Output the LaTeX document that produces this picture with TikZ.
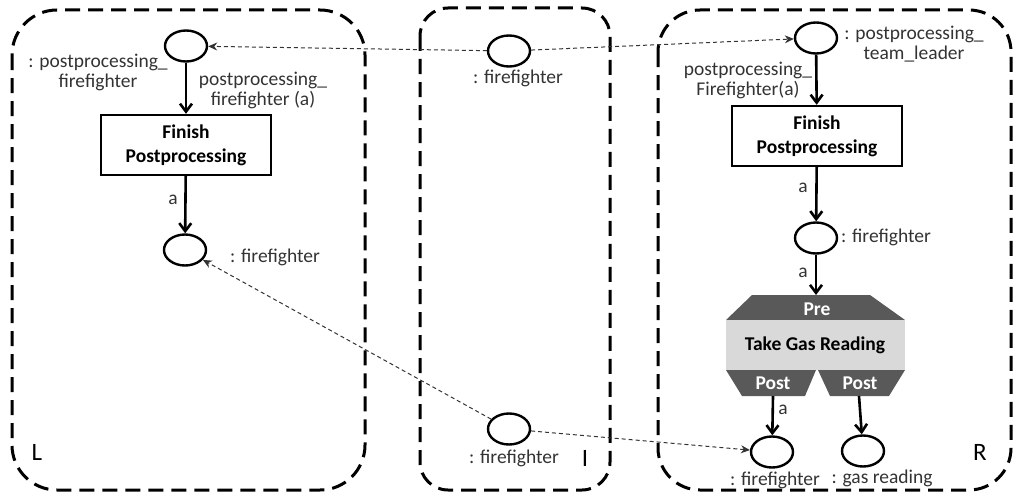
\documentclass[tikz,border=0pt]{standalone}
\usepackage{fontspec}
\setmainfont{Carlito}
\usetikzlibrary{arrows.meta,shapes.geometric}

\definecolor{lblgray}{HTML}{333333}
\definecolor{bandgray}{HTML}{595959}
\definecolor{bodygray}{HTML}{D9D9D9}

\tikzset{
  place/.style={draw, ellipse, line width=2.4pt, minimum width=42pt, minimum height=31pt, inner sep=0pt},
  trans/.style={draw, line width=2.4pt, minimum width=170pt, minimum height=60pt, align=center, font=\bfseries\fontsize{19.5}{24}\selectfont},
  lbl/.style={align=center, text=lblgray, font=\fontsize{19.5}{20}\selectfont, inner sep=0pt},
  side/.style={font=\fontsize{25}{26}\selectfont, inner sep=0pt},
  arc/.style={-{Straight Barb[length=8pt,width=12pt]}, line width=2.6pt},
  mapping/.style={-{Stealth[length=9pt,width=8pt]}, line width=1pt, dash pattern=on 4pt off 3pt, lblgray},
  region/.style={line width=3pt, dash pattern=on 15pt off 8pt, rounded corners=#1},
  region/.default=40pt
}

\begin{document}
\begin{tikzpicture}[x=1pt,y=-1pt]
\useasboundingbox (0,0) rectangle (1016,495);

% graph regions
\draw[region=45pt] (12,10) rectangle (365,490);
\draw[region=28pt] (420,8) rectangle (610,490);
\draw[region=42pt] (658,10) rectangle (1011,490);
\node[side] (sideL) at (37,452) {L};
\node[side] (sideI) at (585,458) {I};
\node[side] (sideR) at (980,452) {R};

% left side
\node[place] (pL1) at (186,46) {};
\node[trans] (tL) at (186,145) {Finish\\Postprocessing};
\node[place] (pL2) at (185,250) {};
\node[lbl] at (98,72) {: postprocessing\_\\firefighter};
\node[lbl] at (263,90) {postprocessing\_\\firefighter (a)};
\node[lbl] at (173,200) {a};
\node[lbl] at (275,257) {: firefighter};
\draw[arc] (pL1) -- (tL);
\draw[arc] (tL) -- (pL2);

% interface
\node[place] (pI1) at (509,51) {};
\node[place] (pI2) at (509,429) {};
\node[lbl] at (518,78) {: firefighter};
\node[lbl] at (514,458) {: firefighter};

% right side
\node[place] (pR1) at (816,38) {};
\node[trans] (tR) at (817,136) {Finish\\Postprocessing};
\node[place] (pR2) at (816,238) {};
\node[lbl] at (914,44) {: postprocessing\_\\team\_leader};
\node[lbl] at (748,80) {postprocessing\_\\Firefighter(a)};
\node[lbl] at (803,188) {a};
\node[lbl] at (886,237) {: firefighter};

% take gas reading
\fill[bandgray] (752,295) -- (870,295) -- (905,320) -- (726,320) -- cycle;
\fill[bodygray] (726,320) rectangle (905,370);
\fill[bandgray] (726,370) -- (816,370) -- (805,396) -- (742,396) -- cycle;
\fill[bandgray] (818,370) -- (905,370) -- (889,396) -- (830,396) -- cycle;
\node[font=\bfseries\fontsize{19.5}{20}\selectfont, text=white] (pre) at (817,309) {Pre};
\node[font=\bfseries\fontsize{19.5}{20}\selectfont] (tgr) at (815,345) {Take Gas Reading};
\node[font=\bfseries\fontsize{19.5}{20}\selectfont, text=white] (postA) at (773,383) {Post};
\node[font=\bfseries\fontsize{19.5}{20}\selectfont, text=white] (postB) at (860,383) {Post};
\coordinate (preTop) at (816,295);
\coordinate (postAout) at (773,396);
\coordinate (postBout) at (859,396);

\node[place] (pR3) at (772,452) {};
\node[place] (pR4) at (863,451) {};
\node[lbl] at (803,273) {a};
\node[lbl] at (783,410) {a};
\node[lbl] at (775,480) {: firefighter};
\node[lbl] at (882,478) {: gas reading};
\draw[arc] (pR1) -- (tR);
\draw[arc] (tR) -- (pR2);
\draw[arc] (pR2) -- (preTop);
\draw[arc] (postAout) -- (pR3);
\draw[arc] (postBout) -- (pR4);

% morphism mappings
\draw[mapping] (pI1) -- (pL1);
\draw[mapping] (pI1) -- (pR1);
\draw[mapping] (pI2) -- (pL2);
\draw[mapping] (pI2) -- (pR3);
\end{tikzpicture}
\end{document}
